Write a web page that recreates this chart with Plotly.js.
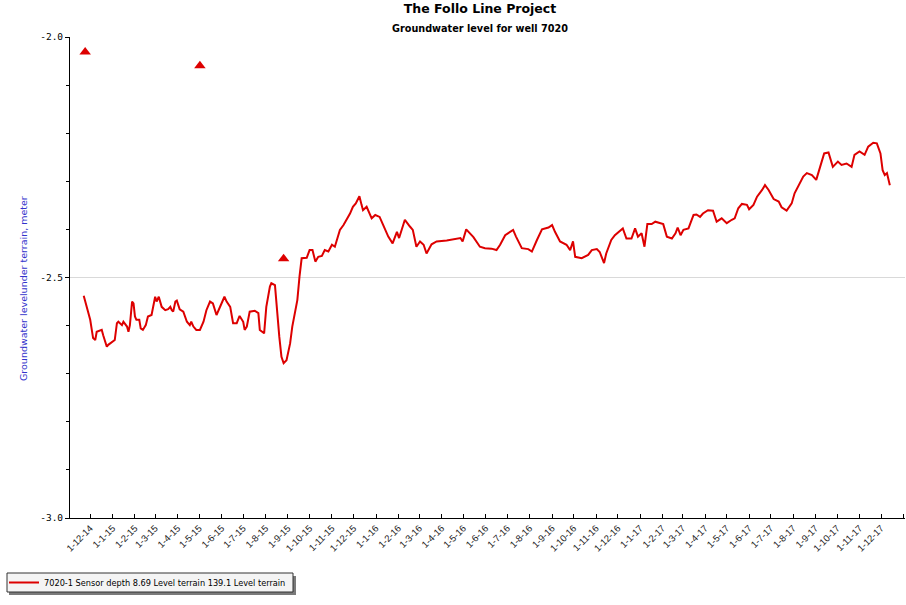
<!DOCTYPE html>
<html><head><meta charset="utf-8">
<script src="https://cdn.plot.ly/plotly-3.0.1.min.js"></script>
<style>html,body{margin:0;padding:0;background:#fff}</style>
</head><body><div id="chart" style="width:906px;height:605px"></div>
<script>
const dates = [
"2014-11-22","2014-11-27","2014-12-01","2014-12-05","2014-12-08","2014-12-10","2014-12-17","2014-12-19","2014-12-24","2014-12-26",
"2015-01-02","2015-01-04","2015-01-07","2015-01-09","2015-01-14","2015-01-16","2015-01-21","2015-01-23","2015-01-25","2015-01-28",
"2015-01-30","2015-02-01","2015-02-03","2015-02-07","2015-02-09","2015-02-12","2015-02-16","2015-02-19","2015-02-24","2015-03-01",
"2015-03-03","2015-03-06","2015-03-10","2015-03-15","2015-03-19","2015-03-22","2015-03-24","2015-03-26","2015-03-29","2015-03-31",
"2015-04-04","2015-04-09","2015-04-14","2015-04-18","2015-04-20","2015-04-23","2015-04-27","2015-05-02","2015-05-07","2015-05-11",
"2015-05-16","2015-05-20","2015-05-25","2015-05-27","2015-06-01","2015-06-05","2015-06-08","2015-06-13","2015-06-17","2015-06-22",
"2015-06-26","2015-07-01","2015-07-03","2015-07-06","2015-07-10","2015-07-17","2015-07-22","2015-07-24","2015-07-30","2015-08-02",
"2015-08-07","2015-08-09","2015-08-14","2015-08-16","2015-08-20","2015-08-23","2015-08-26","2015-08-30","2015-09-04","2015-09-07",
"2015-09-11","2015-09-14","2015-09-17","2015-09-20","2015-09-27","2015-10-01","2015-10-05","2015-10-09","2015-10-13","2015-10-18",
"2015-10-22","2015-10-27","2015-11-01","2015-11-05","2015-11-12","2015-11-17","2015-11-26","2015-11-30","2015-12-04","2015-12-09",
"2015-12-12","2015-12-14","2015-12-19","2015-12-26","2015-12-31","2016-01-06","2016-01-11","2016-01-18","2016-01-24","2016-01-30",
"2016-02-02","2016-02-05","2016-02-10","2016-02-17","2016-02-21","2016-02-26","2016-03-02","2016-03-07","2016-03-11","2016-03-18",
"2016-03-25","2016-04-08","2016-04-27","2016-04-30","2016-05-05","2016-05-15","2016-05-24","2016-05-31","2016-06-09","2016-06-16",
"2016-06-21","2016-06-28","2016-07-05","2016-07-09","2016-07-13","2016-07-21","2016-07-30","2016-08-04","2016-08-11","2016-08-18",
"2016-08-27","2016-09-01","2016-09-05","2016-09-12","2016-09-21","2016-09-26","2016-09-30","2016-10-03","2016-10-12","2016-10-17",
"2016-10-21","2016-10-26","2016-11-02","2016-11-06","2016-11-12","2016-11-15","2016-11-22","2016-11-27","2016-12-01","2016-12-08",
"2016-12-13","2016-12-20","2016-12-25","2016-12-29","2017-01-03","2017-01-07","2017-01-11","2017-01-17","2017-01-22","2017-02-02",
"2017-02-07","2017-02-14","2017-02-19","2017-02-22","2017-02-26","2017-03-02","2017-03-09","2017-03-16","2017-03-20","2017-03-25",
"2017-03-29","2017-04-05","2017-04-12","2017-04-17","2017-04-24","2017-05-01","2017-05-08","2017-05-12","2017-05-17","2017-05-22",
"2017-05-29","2017-06-01","2017-06-07","2017-06-12","2017-06-19","2017-06-23","2017-06-28","2017-07-05","2017-07-12","2017-07-16",
"2017-07-23","2017-07-30","2017-08-03","2017-08-10","2017-08-15","2017-08-20","2017-08-27","2017-09-02","2017-09-07","2017-09-13",
"2017-09-19","2017-09-25","2017-10-02","2017-10-07","2017-10-14","2017-10-21","2017-10-25","2017-11-01","2017-11-08","2017-11-13",
"2017-11-20","2017-11-25","2017-11-30","2017-12-03","2017-12-06","2017-12-09","2017-12-13"
];
const levels = [
-2.538,-2.567,-2.588,-2.626,-2.630,-2.613,-2.609,-2.620,-2.644,-2.640,
-2.633,-2.630,-2.595,-2.592,-2.599,-2.592,-2.602,-2.613,-2.599,-2.550,
-2.554,-2.581,-2.588,-2.588,-2.606,-2.609,-2.599,-2.581,-2.578,-2.540,
-2.550,-2.540,-2.561,-2.568,-2.566,-2.561,-2.568,-2.571,-2.550,-2.548,
-2.566,-2.571,-2.592,-2.599,-2.592,-2.602,-2.609,-2.609,-2.592,-2.568,
-2.550,-2.554,-2.578,-2.571,-2.550,-2.540,-2.550,-2.561,-2.595,-2.595,
-2.580,-2.592,-2.609,-2.602,-2.571,-2.569,-2.574,-2.609,-2.616,-2.561,
-2.519,-2.512,-2.516,-2.554,-2.623,-2.665,-2.678,-2.672,-2.637,-2.602,
-2.568,-2.547,-2.498,-2.460,-2.459,-2.443,-2.443,-2.467,-2.457,-2.455,
-2.443,-2.446,-2.432,-2.436,-2.401,-2.391,-2.367,-2.353,-2.346,-2.331,
-2.349,-2.360,-2.353,-2.377,-2.370,-2.374,-2.391,-2.415,-2.429,-2.405,
-2.418,-2.405,-2.380,-2.394,-2.401,-2.436,-2.425,-2.432,-2.450,-2.431,
-2.425,-2.423,-2.418,-2.425,-2.400,-2.416,-2.436,-2.439,-2.440,-2.443,
-2.432,-2.412,-2.405,-2.401,-2.415,-2.439,-2.441,-2.446,-2.422,-2.400,
-2.396,-2.391,-2.405,-2.425,-2.432,-2.443,-2.425,-2.457,-2.460,-2.457,
-2.453,-2.443,-2.441,-2.447,-2.470,-2.450,-2.422,-2.412,-2.407,-2.398,
-2.419,-2.419,-2.398,-2.415,-2.408,-2.436,-2.389,-2.389,-2.384,-2.389,
-2.415,-2.419,-2.408,-2.396,-2.412,-2.401,-2.398,-2.370,-2.369,-2.374,
-2.367,-2.360,-2.361,-2.384,-2.377,-2.387,-2.380,-2.377,-2.356,-2.347,
-2.349,-2.358,-2.349,-2.332,-2.318,-2.308,-2.318,-2.337,-2.342,-2.354,
-2.361,-2.346,-2.325,-2.304,-2.290,-2.283,-2.287,-2.297,-2.270,-2.242,
-2.240,-2.270,-2.259,-2.266,-2.263,-2.270,-2.245,-2.238,-2.245,-2.228,
-2.220,-2.221,-2.242,-2.277,-2.287,-2.283,-2.308
];
const markerDates = ["2014-11-24","2015-05-02","2015-08-26"];
const markerLevels = [-2.031,-2.060,-2.461];
const seriesName = "7020-1 Sensor depth 8.69 Level terrain 139.1 Level terrain";
const yTickVals = [-3.0,-2.5,-2.0];
const yTickText = ["-3.0","-2.5","-2.0"];

const red = "#dd0000";
// pixel helpers for paper coordinates (plot area: x 70..905, y 37..518)
const px = x => (x - 70) / 835;
const py = y => (518 - y) / 481;

const traces = [
  {x: dates, y: levels, type: "scatter", mode: "lines", name: seriesName,
   line: {color: red, width: 2}},
  {x: markerDates, y: markerLevels, type: "scatter", mode: "markers", showlegend: false,
   marker: {symbol: "triangle-up", size: 10, color: red}}
];
const layout = {
  width: 906, height: 605,
  margin: {l: 70, r: 1, t: 37, b: 87, autoexpand: false},
  paper_bgcolor: "#ffffff", plot_bgcolor: "#ffffff",
  font: {family: "Liberation Sans, Arial, sans-serif", color: "#000"},
  title: {text: "<b>The Follo Line Project</b>", font: {family: "DejaVu Sans", size: 12.5, color: "#000"},
          x: 480/906, xref: "container", xanchor: "center", y: 1 - 9/605, yref: "container", yanchor: "middle"},
  annotations: [
    {text: "<b>Groundwater level for well 7020</b>", xref: "paper", yref: "paper",
     x: px(480), y: py(28), xanchor: "center", yanchor: "middle", showarrow: false,
     font: {family: "DejaVu Sans", size: 9.7, color: "#000"}},
    {text: "Groundwater levelunder terrain, meter", xref: "paper", yref: "paper",
     x: px(23), y: py(289), xanchor: "center", yanchor: "middle", textangle: -90, showarrow: false,
     font: {family: "DejaVu Sans", size: 9.5, color: "#3333cc"}}
  ],
  shapes: [
    {type: "rect", xref: "paper", yref: "paper", x0: px(9), x1: px(296), y0: py(576), y1: py(595),
     fillcolor: "#7a7a7a", line: {width: 0}, layer: "below"},
    {type: "rect", xref: "paper", yref: "paper", x0: px(7), x1: px(293), y0: py(573), y1: py(592),
     fillcolor: "#f4f4f4", line: {color: "#333", width: 1}, layer: "below"}
  ],
  xaxis: {
    type: "date", range: ["2014-11-03", "2018-01-03"],
    tick0: "2014-12-01", dtick: "M1", tickformat: "%-d-%-m-%y",
    tickangle: -45, ticks: "inside", ticklen: 4, tickcolor: "#000",
    showline: true, linecolor: "#000", linewidth: 1, showgrid: false, zeroline: false,
    tickfont: {family: "Liberation Sans, Arial, sans-serif", size: 9.5, color: "#222"},
    automargin: false
  },
  yaxis: {
    range: [-3.0, -2.0], tickvals: yTickVals, ticktext: yTickText,
    ticks: "outside", ticklen: 4, tickcolor: "#000",
    minor: {dtick: 0.1, ticks: "outside", ticklen: 3, tickcolor: "#000", showgrid: false},
    showline: true, linecolor: "#000", linewidth: 1,
    showgrid: true, gridcolor: "#d9d9d9", gridwidth: 1, zeroline: false,
    tickfont: {family: "DejaVu Sans Mono, monospace", size: 9.5, color: "#000"},
    automargin: false
  },
  showlegend: true,
  legend: {x: px(4), y: py(568), xanchor: "left", yanchor: "top",
           bgcolor: "rgba(0,0,0,0)", borderwidth: 0,
           font: {family: "DejaVu Sans", size: 8.2, color: "#000"},
           itemwidth: 30, tracegroupgap: 0}
};
Plotly.newPlot("chart", traces, layout, {displayModeBar: false, staticPlot: true});
</script>
</body></html>
